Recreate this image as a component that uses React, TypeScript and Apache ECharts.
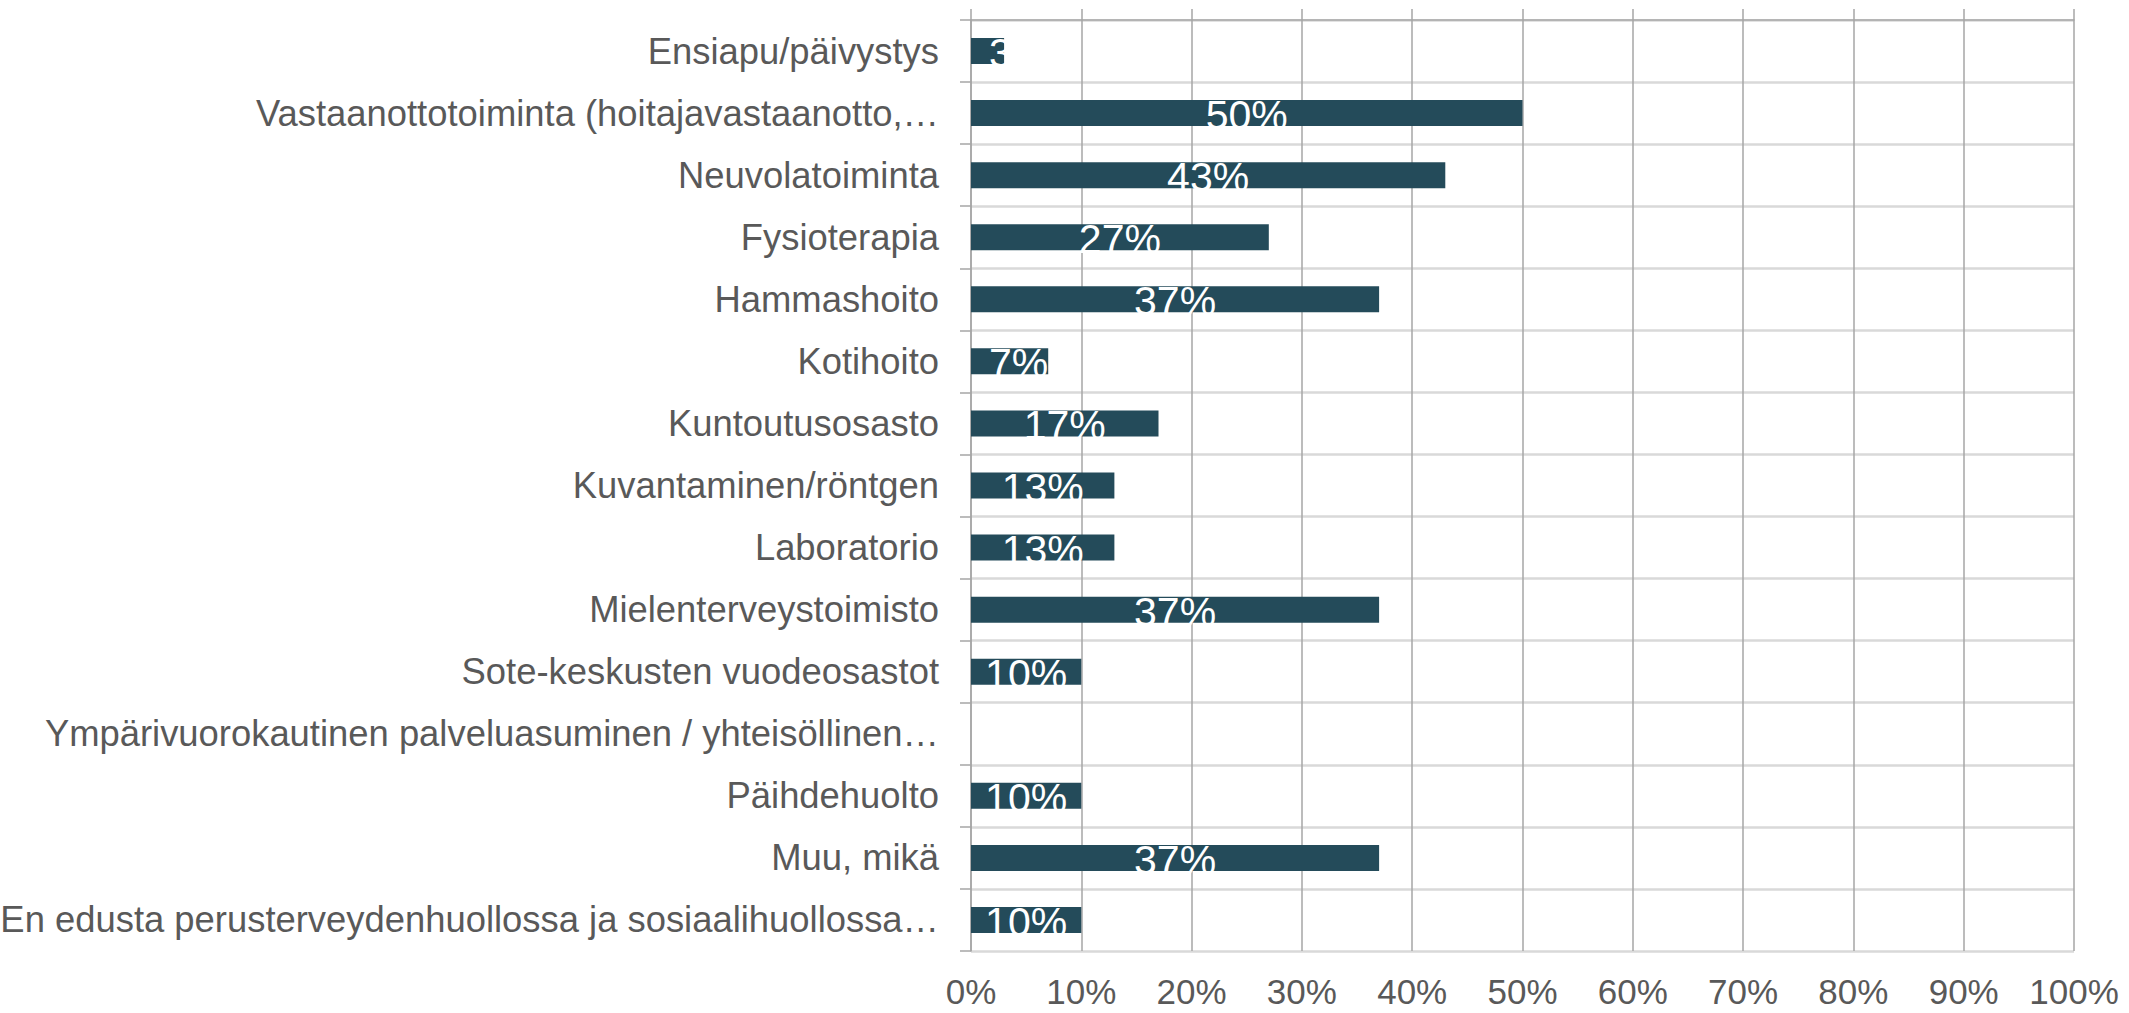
import React, { useEffect, useRef } from "react";
import * as echarts from "echarts";

const categories = [
  "Ensiapu/päivystys",
  "Vastaanottotoiminta (hoitajavastaanotto,…",
  "Neuvolatoiminta",
  "Fysioterapia",
  "Hammashoito",
  "Kotihoito",
  "Kuntoutusosasto",
  "Kuvantaminen/röntgen",
  "Laboratorio",
  "Mielenterveystoimisto",
  "Sote-keskusten vuodeosastot",
  "Ympärivuorokautinen palveluasuminen / yhteisöllinen…",
  "Päihdehuolto",
  "Muu, mikä",
  "En edusta perusterveydenhuollossa ja sosiaalihuollossa…",
];

const values = [3, 50, 43, 27, 37, 7, 17, 13, 13, 37, 10, 0, 10, 37, 10];

const xTicks = [0, 10, 20, 30, 40, 50, 60, 70, 80, 90, 100];

const FONT = "'Liberation Sans', Arial, Helvetica, sans-serif";
const TEXT = "#595959";
const GRID_DARK = "#a6a6a6";
const GRID_LIGHT = "#d9d9d9";
const BAR = "#244b5a";

export default function App() {
  const ref = useRef<HTMLDivElement>(null);

  useEffect(() => {
    if (!ref.current) return;
    const chart = echarts.init(ref.current, undefined, { renderer: "svg" });

    const data = values.map((v) => {
      if (v <= 0) return { value: v, label: { show: false } };
      if (v < 8) return { value: v, label: { position: "insideLeft" as const, distance: 18 } };
      return { value: v };
    });

    chart.setOption({
      animation: false,
      backgroundColor: "#ffffff",
      grid: {
        left: 971,
        right: 55,
        top: 20,
        bottom: 62,
        containLabel: false,
        outerBoundsMode: "none",
      },
      xAxis: [
        {
          type: "value",
          position: "bottom",
          min: xTicks[0],
          max: xTicks[xTicks.length - 1],
          interval: 10,
          axisLine: { show: false },
          axisTick: { show: false },
          axisLabel: {
            formatter: "{value}%",
            color: TEXT,
            fontSize: 35,
            lineHeight: 30,
            fontFamily: FONT,
            margin: 25,
          },
          splitLine: { show: true, lineStyle: { color: GRID_DARK, width: 1.5 } },
        },
        {
          type: "value",
          position: "top",
          min: xTicks[0],
          max: xTicks[xTicks.length - 1],
          interval: 10,
          axisLine: { show: true, lineStyle: { color: GRID_DARK, width: 1.5 } },
          axisTick: { show: true, length: 11, lineStyle: { color: GRID_DARK, width: 1.5 } },
          axisLabel: { show: false },
          splitLine: { show: false },
        },
      ],
      yAxis: {
        type: "category",
        inverse: true,
        data: categories,
        axisLine: { show: true, lineStyle: { color: GRID_DARK, width: 1.5 } },
        axisTick: { show: true, length: 11, lineStyle: { color: GRID_DARK, width: 1.5 } },
        axisLabel: {
          color: TEXT,
          fontSize: 36.4,
          fontFamily: FONT,
          margin: 32,
          interval: 0,
        },
        splitLine: { show: true, lineStyle: { color: GRID_LIGHT, width: 2.5 } },
      },
      series: [
        {
          type: "bar",
          xAxisIndex: 0,
          data,
          barWidth: 26,
          itemStyle: { color: BAR },
          label: {
            show: true,
            position: "inside",
            formatter: "{c}%",
            color: "#ffffff",
            fontSize: 41,
            fontFamily: FONT,
            offset: [0, 2],
          },
          z: 3,
        },
      ],
    });

    return () => chart.dispose();
  }, []);

  return (
    <div
      ref={ref}
      style={{ position: "fixed", left: 0, top: 0, width: 2129, height: 1013, background: "#fff" }}
    />
  );
}
